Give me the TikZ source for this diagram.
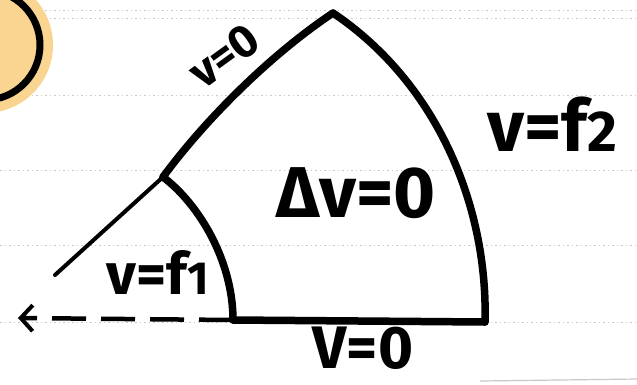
\documentclass[tikz,border=0pt]{standalone}
\usepackage{fontspec}
\setmainfont{Fira Sans}
\usepackage{tikz}
\usetikzlibrary{arrows.meta, calc}
\definecolor{peach}{RGB}{250,212,145}
\definecolor{paper}{RGB}{200,200,200}
\newcommand{\idx}[1]{{\fontsize{0.8em}{0.8em}\selectfont #1}}

\begin{document}
\begin{tikzpicture}[
  x=1pt, y=-1pt,
  edge/.style={draw, line width=7.5pt, line cap=round, line join=round},
  lead/.style={draw, line width=4pt, line cap=round},
  cut/.style={draw, line width=4.5pt, dash pattern=on 34pt off 15pt},
  ruling/.style={draw=paper, line width=0.8pt, dash pattern=on 1.5pt off 3pt},
  hand/.style={font=\bfseries\fontsize{#1}{#1}\selectfont, inner sep=0pt}
  ]
  \useasboundingbox (0,0) rectangle (637,384);
  % paper rulings
  \foreach \yy in {10,18,95,170,245,322} {
    \draw[ruling] (0,\yy) -- (637,\yy);
  }
  \draw[paper, line width=1.2pt] (480,381) -- (637,379);
  % sun in the corner
  \fill[peach] (-15,45) circle (68);
  \draw[line width=7pt] (-15,45) circle (55);
  % corners of the sector
  \coordinate (top)  at (333,13);
  \coordinate (knee) at (163,177);
  \coordinate (br)   at (485,322);
  \coordinate (bl)   at (233,320);
  \coordinate (tip)  at (55,275);
  \coordinate (tail) at (18,318);
  \draw[edge] (knee) .. controls (205,120) and (270,55) .. (top);
  \draw[edge] (top) .. controls (440,85) and (488,210) .. (br);
  \draw[edge] (br) -- (bl);
  \draw[edge] (knee) .. controls (200,205) and (233,262) .. (bl);
  \draw[lead] (knee) -- (tip);
  \draw[cut, -{Straight Barb[length=12pt, width=26pt, line width=4pt]}] (bl) -- (tail);
  % labels
  \node[hand=46, rotate=36] (lbltop) at (224,56) {v=0};
  \node[hand=72] (lblright) at (552,124) {v=f\idx{2}};
  \node[hand=72] (lblmid) at (356,193) {Δv=0};
  \node[hand=58] (lblin) at (158,272) {v=f\idx{1}};
  \node[hand=60] (lblbot) at (363,348) {V=0};
\end{tikzpicture}
\end{document}
